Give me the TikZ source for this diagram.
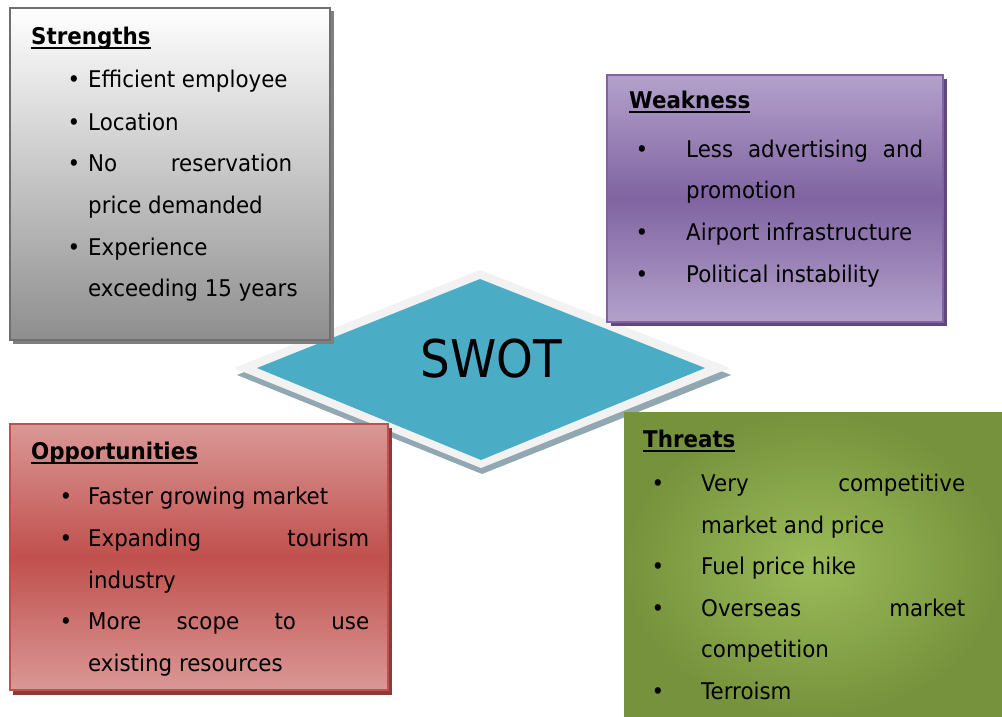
\documentclass[tikz,border=0pt]{standalone}
\usepackage{fontspec}
\setmainfont[FakeStretch=0.93]{DejaVu Sans}
\newfontfamily\swotfont[FakeStretch=0.9]{DejaVu Sans}
\newsavebox\ulbox
\newcommand\myul[1]{\sbox\ulbox{#1}\rlap{\rule[-4.5pt]{\wd\ulbox}{2pt}}\usebox\ulbox}
\definecolor{sborder}{HTML}{6F6F6F}
\definecolor{sbottom}{HTML}{8E8E8E}
\definecolor{sshadow}{HTML}{7F7F7F}
\definecolor{wlight}{HTML}{B3A1CB}
\definecolor{wdark}{HTML}{8064A2}
\definecolor{wshadow}{HTML}{5F497A}
\definecolor{olight}{HTML}{DA9896}
\definecolor{odark}{HTML}{C0504D}
\definecolor{oshadow}{HTML}{8E3A38}
\definecolor{tlight}{HTML}{9BBB59}
\definecolor{tdark}{HTML}{76923C}
\definecolor{dblue}{HTML}{4BACC6}
\definecolor{dlight}{HTML}{F2F2F2}
\definecolor{dshadow}{HTML}{91A8B2}
\begin{document}
\begin{tikzpicture}[x=1pt,y=-1pt,
  txt/.style={anchor=base west, inner sep=0pt, font=\fontsize{23}{27}\selectfont},
  bul/.style={anchor=base, inner sep=0pt, font=\fontsize{23}{27}\selectfont},
  ttl/.style={anchor=base west, inner sep=0pt, font=\fontsize{23}{27}\selectfont\bfseries}]
\useasboundingbox (0,0) rectangle (1002,717);
% diamond
\fill[dshadow] (237,375) -- (482,276) -- (731,375) -- (482,474) -- cycle;
\fill[dlight] (234,368) -- (480,270) -- (730,368) -- (481,468) -- cycle;
\fill[dblue] (257,368) -- (480,279) -- (705,368) -- (481,460) -- cycle;
\node[inner sep=0pt] (swot) at (491,359) {\swotfont\fontsize{52}{60}\selectfont SWOT};
% Strengths
\fill[sshadow] (13,11) rectangle (334,344);
\path[draw=sborder, line width=2pt, top color=white, bottom color=sbottom] (10,8) rectangle (330,340);
\node[ttl] (st) at (31,45) {\myul{Strengths}};
\node[bul] (sb1) at (74,88) {•};
\node[bul] (sb2) at (74,130) {•};
\node[bul] (sb3) at (74,171) {•};
\node[bul] (sb4) at (74,255) {•};
\node[txt] (s1) at (88,88) {Efficient employee};
\node[txt] (s2) at (88,130) {Location};
\node[txt] (s3) at (88,171) {\makebox[204pt][l]{No\hfill reservation}};
\node[txt] (s4) at (88,213) {price demanded};
\node[txt] (s5) at (88,255) {Experience};
\node[txt] (s6) at (88,296) {exceeding 15 years};
% Weakness
\fill[wshadow] (611,79) rectangle (947,326);
\path[draw=wdark, line width=2pt, top color=wlight, bottom color=wlight, middle color=wdark] (607,75) rectangle (943,322);
\node[ttl] (wt) at (629,109) {\myul{Weakness}};
\node[bul] (wb1) at (642,157) {•};
\node[bul] (wb2) at (642,240) {•};
\node[bul] (wb3) at (642,282) {•};
\node[txt] (w1) at (686,157) {\makebox[237pt][l]{Less\hfill advertising\hfill and}};
\node[txt] (w2) at (686,198) {promotion};
\node[txt] (w3) at (686,240) {Airport infrastructure};
\node[txt] (w4) at (686,282) {Political instability};
% Opportunities
\fill[oshadow] (13,428) rectangle (392,695);
\path[draw=odark, line width=2pt, top color=olight, bottom color=olight, middle color=odark] (10,424) rectangle (388,690);
\node[ttl] (ot) at (31,459) {\myul{Opportunities}};
\node[bul] (ob1) at (66,504) {•};
\node[bul] (ob2) at (66,546) {•};
\node[bul] (ob3) at (66,629) {•};
\node[txt] (o1) at (88,504) {Faster growing market};
\node[txt] (o2) at (88,546) {\makebox[281pt][l]{Expanding\hfill tourism}};
\node[txt] (o3) at (88,588) {industry};
\node[txt] (o4) at (88,629) {\makebox[281pt][l]{More\hfill scope\hfill to\hfill use}};
\node[txt] (o5) at (88,671) {existing resources};
% Threats
\path[shading=radial, inner color=tlight, outer color=tdark] (624,412) rectangle (1002,717);
\node[ttl] (tt) at (643,447) {\myul{Threats}};
\node[bul] (tb1) at (658,491) {•};
\node[bul] (tb2) at (658,574) {•};
\node[bul] (tb3) at (658,616) {•};
\node[bul] (tb4) at (658,699) {•};
\node[txt] (t1) at (701,491) {\makebox[264pt][l]{Very\hfill competitive}};
\node[txt] (t2) at (701,533) {market and price};
\node[txt] (t3) at (701,574) {Fuel price hike};
\node[txt] (t4) at (701,616) {\makebox[264pt][l]{Overseas\hfill market}};
\node[txt] (t5) at (701,657) {competition};
\node[txt] (t6) at (701,699) {Terroism};
\end{tikzpicture}
\end{document}
